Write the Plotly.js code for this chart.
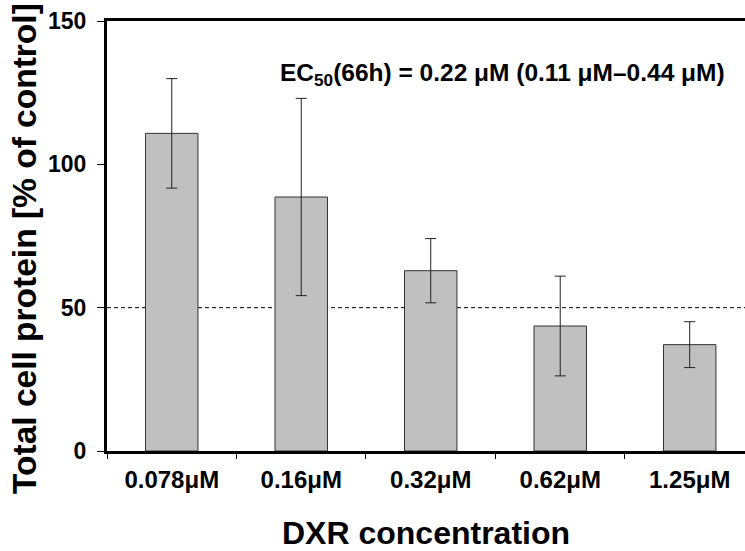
<!DOCTYPE html>
<html>
<head>
<meta charset="utf-8">
<script src="https://cdn.plot.ly/plotly-3.0.1.min.js"></script>
<style>
  html, body { margin: 0; padding: 0; background: #fff; }
  #chart { width: 745px; height: 551px; }
</style>
</head>
<body>
<div id="chart"></div>
<script>
// DXR dose response: total cell protein after 66 h, mean ± SD
const concentrations = ["0.078μM", "0.16μM", "0.32μM", "0.62μM", "1.25μM"];
const proteinPct = [110.8, 88.6, 62.9, 43.6, 37.1];
const proteinSd = [19.1, 34.4, 11.2, 17.4, 8.0];
const yTicks = [0, 50, 100, 150];
const halfMaxLevel = 50;

const FONT = "Liberation Sans, Arial, Helvetica, sans-serif";

const bars = {
  type: "bar",
  x: concentrations,
  y: proteinPct,
  width: 0.405,
  marker: { color: "#c0c0c0", line: { color: "#333333", width: 1 } },
  error_y: {
    type: "data",
    array: proteinSd,
    visible: true,
    color: "#222222",
    thickness: 1,
    width: 5.5
  },
  hoverinfo: "none"
};

const layout = {
  width: 745,
  height: 551,
  margin: { l: 107, r: 0, t: 21, b: 100 },
  paper_bgcolor: "#ffffff",
  plot_bgcolor: "#ffffff",
  showlegend: false,
  font: { family: FONT, color: "#000000" },
  xaxis: {
    type: "category",
    range: [-0.5, 4.427],
    showline: true,
    linecolor: "#000000",
    linewidth: 3,
    mirror: true,
    ticks: "outside",
    tickson: "boundaries",
    ticklen: 5,
    tickwidth: 1,
    tickcolor: "#000000",
    ticklabelstandoff: 5,
    showgrid: false,
    zeroline: false,
    tickfont: { family: FONT, size: 24, weight: "bold", color: "#000000" },
    title: {
      text: "DXR concentration",
      font: { family: FONT, size: 32, weight: "bold", color: "#000000" },
      standoff: 36
    },
    automargin: false,
    fixedrange: true
  },
  yaxis: {
    range: [0, 150],
    tickvals: yTicks,
    showline: true,
    linecolor: "#000000",
    linewidth: 3,
    ticks: "outside",
    ticklen: 7,
    tickwidth: 1,
    tickcolor: "#000000",
    ticklabelstandoff: 6,
    showgrid: false,
    zeroline: false,
    tickfont: { family: FONT, size: 23, weight: "bold", color: "#000000" },
    automargin: false,
    fixedrange: true
  },
  shapes: [
    {
      type: "line",
      xref: "paper",
      x0: 0,
      x1: 1,
      yref: "y",
      y0: halfMaxLevel,
      y1: halfMaxLevel,
      line: { color: "#000000", width: 1, dash: "4px,3px" },
      layer: "below"
    }
  ],
  annotations: [
    {
      // y-axis title, centred slightly below the middle of the plot area
      xref: "paper",
      yref: "paper",
      x: -0.1285,
      y: 0.47,
      xanchor: "center",
      yanchor: "middle",
      textangle: -90,
      showarrow: false,
      text: "Total cell protein [% of control]",
      font: { family: FONT, size: 33.5, weight: "bold", color: "#000000" }
    },
    {
      xref: "paper",
      yref: "y",
      x: 0.268,
      y: 131.5,
      xanchor: "left",
      yanchor: "middle",
      showarrow: false,
      text: "EC<sub>50</sub>(66h) = 0.22 μM (0.11 μM–0.44 μM)",
      font: { family: FONT, size: 24.5, weight: "bold", color: "#000000" }
    }
  ]
};

Plotly.newPlot("chart", [bars], layout, { displayModeBar: false, staticPlot: true });
</script>
</body>
</html>
